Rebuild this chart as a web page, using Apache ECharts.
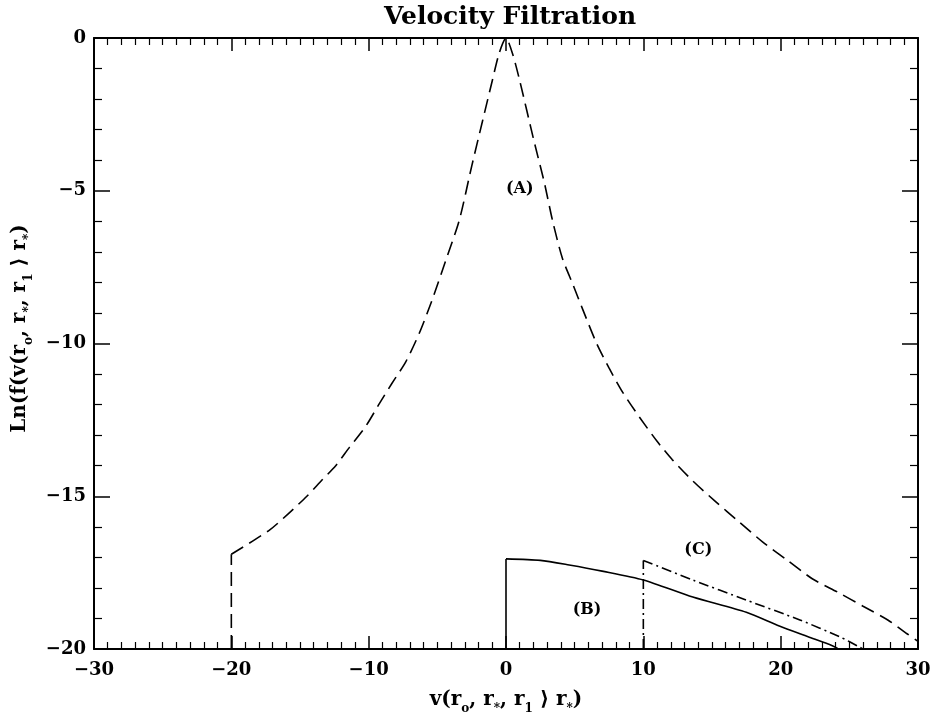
<!DOCTYPE html>
<html>
<head>
<meta charset="utf-8">
<script src="https://cdn.jsdelivr.net/npm/echarts@6/dist/echarts.min.js"></script>
<style>html,body{margin:0;padding:0;background:#fff}#c{width:933px;height:719px}</style>
</head>
<body>
<div id="c"></div>
<script>
// Curve (A): dashed (first two points = vertical drop at v = -20)
const curveA = [
  [-20, -20], [-20, -16.9], [-17.2, -16.1], [-15.8, -15.55], [-14.5, -15.0], [-13.4, -14.47],
  [-12.4, -14.0], [-11.4, -13.4], [-10.2, -12.7], [-9.2, -11.95], [-8.3, -11.3], [-7.3, -10.6],
  [-6.3, -9.65], [-5.4, -8.6], [-4.4, -7.3], [-3.4, -5.96], [-2.5, -4.2], [-1.7, -2.7], [-1.0, -1.4],
  [-0.5, -0.5], [0, 0], [0.5, -0.55], [1.0, -1.4], [2.0, -3.3], [2.8, -4.75], [3.4, -6.0],
  [4.1, -7.2], [4.9, -8.1], [5.6, -8.9], [6.6, -10.0], [7.5, -10.8], [8.5, -11.6], [9.7, -12.4],
  [11.0, -13.2], [12.1, -13.8], [13.6, -14.5], [15.2, -15.15], [17.0, -15.85], [18.7, -16.5],
  [20.5, -17.1], [22.3, -17.7], [24.2, -18.15], [26.0, -18.6], [27.8, -19.05], [29.2, -19.5], [30, -19.75]
];
// Curve (B): solid (first two points = vertical rise at v = 0)
const curveB = [
  [0, -20], [0, -17.05], [2.5, -17.1], [4.6, -17.25], [7.0, -17.45], [10.0, -17.74], [13.6, -18.3],
  [17.5, -18.8], [19.9, -19.25], [22.0, -19.6], [23.8, -19.9], [24.2, -20]
];
// Curve (C): dash-dot (first two points = vertical rise at v = 10)
const curveC = [
  [10, -20], [10, -17.1], [13.6, -17.74], [17.5, -18.4], [21.4, -19.05], [24.3, -19.6], [25.8, -19.95], [26.0, -20]
];
// Curve labels
const curveLabels = [
  { name: '(A)', value: [1.0, -4.95] },
  { name: '(B)', value: [5.9, -18.72] },
  { name: '(C)', value: [14.0, -16.76] }
];
const xTicks = { min: -30, max: 30, interval: 10 };
const yTicks = { min: -20, max: 0, interval: 5 };

const FONT = '"DejaVu Serif", "Liberation Serif", serif';
const fmt = v => (v < 0 ? '\u2212' + Math.abs(v) : String(v));
const lineStyleAxis = { color: '#000', width: 2 };

const chart = echarts.init(document.getElementById('c'));
const richName = {
  n: { fontFamily: FONT, fontWeight: 'bold', fontSize: 20, color: '#000', lineHeight: 30, verticalAlign: 'middle' },
  s: { fontFamily: FONT, fontWeight: 'bold', fontSize: 12, color: '#000', lineHeight: 13, verticalAlign: 'bottom' }
};
const subName = '{n|r}{s|o}{n|, r}{s|*}{n|, r}{s|1}{n| \u27E9 r}{s|*}{n|)}';

const A_STYLE = { color: '#000', width: 1.6, type: [14, 7] };
const B_STYLE = { color: '#000', width: 1.6, type: 'solid' };
const C_STYLE = { color: '#000', width: 1.6, type: [10, 4, 2, 4] };
function lineSeries(data, style, smooth) {
  return { type: 'line', data: data, showSymbol: false, symbol: 'none', smooth: smooth, lineStyle: style };
}

chart.setOption({
  animation: false,
  backgroundColor: '#fff',
  grid: { left: 94, right: 15, top: 38, bottom: 70, containLabel: false, outerBoundsMode: 'none' },
  graphic: [{
    type: 'text', x: 510, y: 17,
    style: { text: 'Velocity Filtration', font: 'bold 25px ' + FONT, fill: '#000', align: 'center', verticalAlign: 'middle' }
  }],
  xAxis: [{
    type: 'value', min: xTicks.min, max: xTicks.max, interval: xTicks.interval, position: 'bottom',
    axisLine: { show: true, onZero: false, lineStyle: lineStyleAxis },
    axisTick: { show: true, inside: true, length: 13, lineStyle: { color: '#000', width: 1.5 } },
    minorTick: { show: true, splitNumber: 10, length: 7, lineStyle: { color: '#000', width: 1.2 } },
    splitLine: { show: false },
    axisLabel: { formatter: fmt, fontFamily: FONT, fontWeight: 'bold', fontSize: 18, color: '#000', margin: 12 },
    name: '{n|v(}' + subName, nameLocation: 'middle', nameGap: 36,
    nameTextStyle: { rich: richName }
  }, {
    type: 'value', min: xTicks.min, max: xTicks.max, interval: xTicks.interval, position: 'top',
    axisLine: { show: true, onZero: false, lineStyle: lineStyleAxis },
    axisTick: { show: true, inside: true, length: 13, lineStyle: { color: '#000', width: 1.5 } },
    minorTick: { show: true, splitNumber: 10, length: 7, lineStyle: { color: '#000', width: 1.2 } },
    splitLine: { show: false }, axisLabel: { show: false }
  }],
  yAxis: [{
    type: 'value', min: yTicks.min, max: yTicks.max, interval: yTicks.interval, position: 'left',
    axisLine: { show: true, onZero: false, lineStyle: lineStyleAxis },
    axisTick: { show: true, inside: true, length: 16, lineStyle: { color: '#000', width: 1.5 } },
    minorTick: { show: true, splitNumber: 5, length: 8, lineStyle: { color: '#000', width: 1.2 } },
    splitLine: { show: false },
    axisLabel: { formatter: fmt, fontFamily: FONT, fontWeight: 'bold', fontSize: 18, color: '#000', margin: 8 },
    name: '{n|Ln(f(v(}' + subName, nameLocation: 'middle', nameGap: 56, nameRotate: 90,
    nameTextStyle: { rich: richName, padding: [0, 0, 0, 30] }
  }, {
    type: 'value', min: yTicks.min, max: yTicks.max, interval: yTicks.interval, position: 'right',
    axisLine: { show: true, onZero: false, lineStyle: lineStyleAxis },
    axisTick: { show: true, inside: true, length: 16, lineStyle: { color: '#000', width: 1.5 } },
    minorTick: { show: true, splitNumber: 5, length: 8, lineStyle: { color: '#000', width: 1.2 } },
    splitLine: { show: false }, axisLabel: { show: false }
  }],
  series: [
    lineSeries(curveA.slice(0, 2), A_STYLE, false),
    lineSeries(curveA.slice(1), A_STYLE, 0.25),
    lineSeries(curveB.slice(0, 2), B_STYLE, false),
    lineSeries(curveB.slice(1), B_STYLE, 0.25),
    lineSeries(curveC.slice(0, 2), C_STYLE, false),
    lineSeries(curveC.slice(1), C_STYLE, 0.25),
    { type: 'scatter', data: curveLabels, symbolSize: 0, silent: true, itemStyle: { opacity: 1 },
      label: { show: true, position: 'inside', formatter: p => p.name, fontFamily: FONT, fontWeight: 'bold', fontSize: 16, color: '#000' } }
  ]
});
</script>
</body>
</html>
